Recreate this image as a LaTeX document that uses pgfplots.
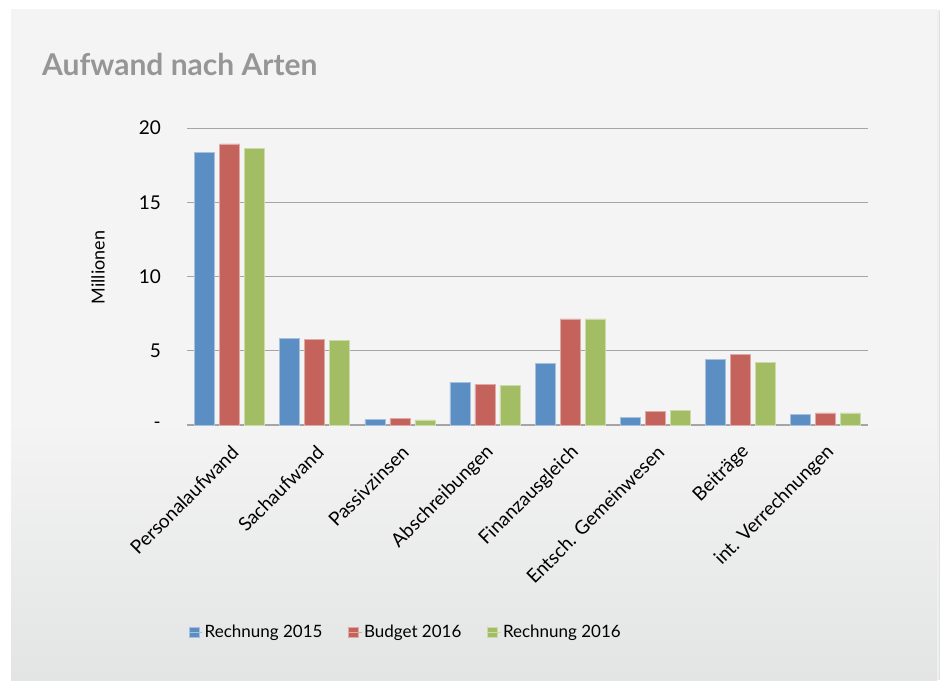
\documentclass[border=0pt]{standalone}
\usepackage{fontspec}
\setmainfont{Lato}
\usepackage{pgfplots}
\pgfplotsset{compat=1.18}
\definecolor{cblue}{RGB}{91,142,195}
\definecolor{cred}{RGB}{196,98,92}
\definecolor{cgreen}{RGB}{162,189,99}
\definecolor{paneltop}{RGB}{244,244,244}
\definecolor{panelbot}{RGB}{227,228,228}
\definecolor{titlegray}{RGB}{150,150,150}
\definecolor{gridgray}{RGB}{165,165,165}
\begin{document}
\begin{tikzpicture}[x=1pt,y=1pt]
\useasboundingbox (0,0) rectangle (942,-680);
\fill[white] (0,0) rectangle (942,-680);
\fill[black!12] (12,-10) rectangle (940,-680);
\fill[black!6] (12,-10) rectangle (938.5,-680);
\fill[paneltop] (11,-9) rectangle (937,-420);
\shade[top color=paneltop, bottom color=panelbot] (11,-420) rectangle (937,-680);
\node[anchor=base west, font=\bfseries\fontsize{30}{36}\selectfont, text=titlegray, inner sep=0] at (42,-75) {Aufwand nach Arten};
\begin{axis}[
  at={(187pt,-425pt)}, anchor=south west,
  scale only axis, width=681pt, height=297pt,
  ybar=5pt, bar width=20pt,
  xmin=-0.5, xmax=7.5, ymin=0, ymax=20,
  xtick={0,...,7},
  xticklabels={Personalaufwand,Sachaufwand,Passivzinsen,Abschreibungen,Finanzausgleich,Entsch. Gemeinwesen,Beiträge,int. Verrechnungen},
  ytick={0,5,10,15,20},
  yticklabels={-,5,10,15,20},
  major tick length=0pt,
  axis x line*=bottom, axis y line*=left,
  y axis line style={draw=none},
  x axis line style={draw=gridgray, line width=1.6pt, -},
  ymajorgrids, grid style={draw=gridgray, line width=1pt},
  xticklabel style={rotate=45, anchor=east, font=\fontsize{19}{22}\selectfont, inner sep=2pt, xshift=-11pt, yshift=-21pt},
  yticklabel style={font=\fontsize{19}{22}\selectfont, /pgf/number format/assume math mode=true, anchor=east, inner sep=0pt, xshift=-26pt},
  ylabel={Millionen},
  ylabel style={font=\fontsize{18}{21}\selectfont, at={(-89pt,0.53)}, anchor=center, rotate=0},
  legend columns=3,
  legend style={at={(0.3215,-0.697)}, anchor=center, draw=none, fill=none, font=\fontsize{17}{22}\selectfont,
    /tikz/every even column/.append style={column sep=24pt}},
  legend image code/.code={\fill[#1] (0pt,-5pt) rectangle (10pt,5pt); \path (0pt,0pt) -- (13pt,0pt);},
]
\addplot[fill=cblue, draw=cblue!55!white, line width=0.6pt] coordinates {(0,18.36) (1,5.84) (2,0.38) (3,2.87) (4,4.15) (5,0.52) (6,4.42) (7,0.74)};
\addplot[fill=cred, draw=cred!55!white, line width=0.6pt] coordinates {(0,18.93) (1,5.79) (2,0.43) (3,2.72) (4,7.14) (5,0.92) (6,4.73) (7,0.81)};
\addplot[fill=cgreen, draw=cgreen!55!white, line width=0.6pt] coordinates {(0,18.65) (1,5.72) (2,0.34) (3,2.67) (4,7.14) (5,0.99) (6,4.24) (7,0.81)};
\legend{Rechnung 2015,Budget 2016,Rechnung 2016}
\end{axis}
\end{tikzpicture}
\end{document}
